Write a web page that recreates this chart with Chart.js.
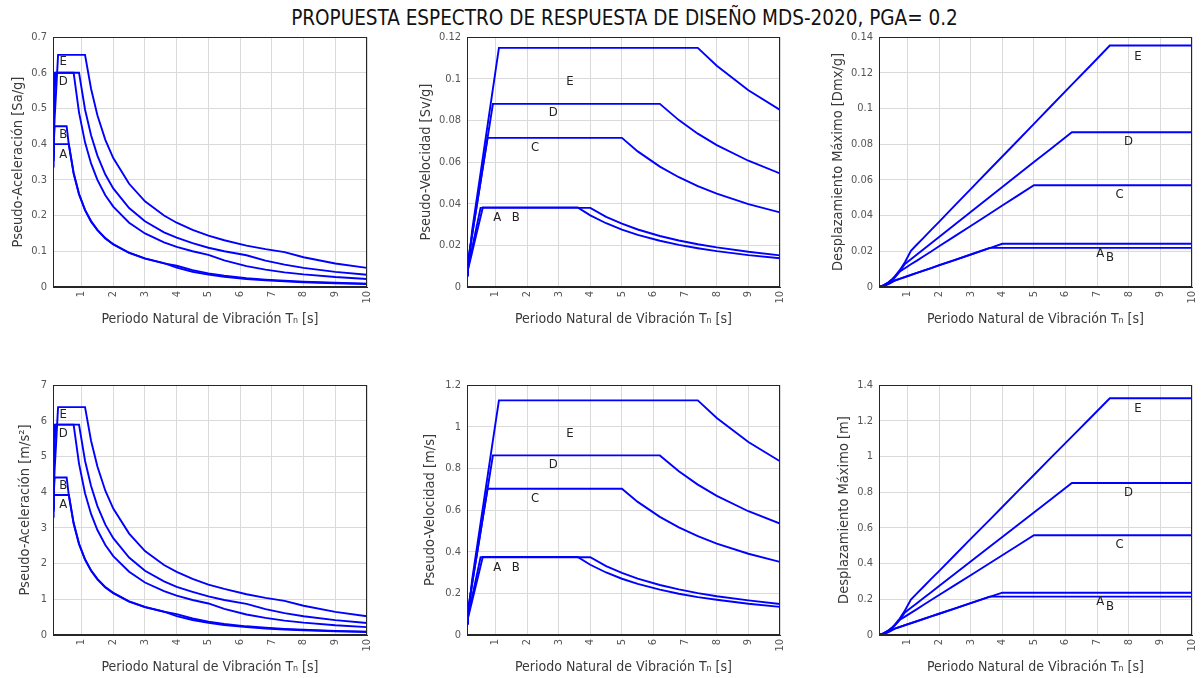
<!DOCTYPE html>
<html>
<head>
<meta charset="utf-8">
<script src="https://cdn.jsdelivr.net/npm/chart.js@4.4.0/dist/chart.umd.min.js"></script>
<style>
  body { margin: 0; background: #fff; width: 1203px; height: 678px; overflow: hidden; position: relative; }
  #title { position: absolute; left: 23px; top: 6px; width: 1203px; text-align: center;
           font-family: "Liberation Sans Narrow", "DejaVu Sans Condensed", sans-serif; font-size: 20.5px; color: #111; }
  canvas { position: absolute; }
</style>
</head>
<body>
<div id="title">PROPUESTA ESPECTRO DE RESPUESTA DE DISEÑO MDS-2020, PGA= 0.2</div>
<canvas id="c1"></canvas>
<canvas id="c2"></canvas>
<canvas id="c3"></canvas>
<canvas id="c4"></canvas>
<canvas id="c5"></canvas>
<canvas id="c6"></canvas>
<script>
// periodo T [s], comun a todas las curvas
const periods = [0.1,0.12,0.15,0.2,0.26,0.4,0.53,0.6,0.75,0.92,1.11,1.3,1.5,1.75,2,2.5,3,3.6,4,4.5,5,5.5,6.2,6.8,7.4,8,9,10];
const soilNames = ['A','B','C','D','E'];

// === Pseudo-aceleracion [Sa/g] ===
const saA = [0.337,0.40,0.40,0.40,0.40,0.40,0.40,0.40,0.32,0.261,0.216,0.185,0.16,0.137,0.12,0.096,0.08,0.0667,0.054,0.0427,0.0346,0.0286,0.0225,0.0187,0.0158,0.0135,0.0107,0.0086];
const saB = [0.355,0.393,0.45,0.45,0.45,0.45,0.45,0.3975,0.318,0.259,0.215,0.183,0.159,0.136,0.119,0.0954,0.0795,0.0663,0.0596,0.0471,0.0382,0.0315,0.0248,0.0206,0.0174,0.0149,0.0118,0.0095];
const saC = [0.37,0.46,0.60,0.60,0.60,0.60,0.60,0.60,0.60,0.489,0.405,0.346,0.30,0.257,0.225,0.18,0.15,0.125,0.1125,0.10,0.09,0.0744,0.0585,0.0487,0.0411,0.0352,0.0278,0.0225];
const saD = [0.365,0.44,0.55,0.60,0.60,0.60,0.60,0.60,0.60,0.60,0.497,0.425,0.368,0.315,0.276,0.221,0.184,0.153,0.138,0.123,0.110,0.100,0.089,0.074,0.0625,0.0535,0.0423,0.0342];
const saE = [0.36,0.40,0.47,0.55,0.65,0.65,0.65,0.65,0.65,0.65,0.65,0.555,0.481,0.412,0.361,0.289,0.24,0.20,0.18,0.16,0.144,0.131,0.116,0.106,0.0975,0.0834,0.0659,0.0534];

// === Pseudo-velocidad [Sv/g] ===
const svA = [0.00536,0.00764,0.00955,0.0127,0.0166,0.0255,0.0337,0.0382,0.0382,0.0382,0.0382,0.0382,0.0382,0.0382,0.0382,0.0382,0.0382,0.0382,0.0344,0.0306,0.0275,0.0250,0.0222,0.0202,0.0186,0.0172,0.0153,0.0138];
const svB = [0.00565,0.00751,0.0107,0.0143,0.0186,0.0287,0.0380,0.0380,0.0380,0.0380,0.0380,0.0380,0.0380,0.0380,0.0380,0.0380,0.0380,0.0380,0.0380,0.0337,0.0304,0.0276,0.0245,0.0223,0.0205,0.0190,0.0169,0.0152];
const svC = [0.00589,0.00879,0.0143,0.0191,0.0248,0.0382,0.0506,0.0573,0.0716,0.0716,0.0716,0.0716,0.0716,0.0716,0.0716,0.0716,0.0716,0.0716,0.0716,0.0716,0.0716,0.0651,0.0578,0.0527,0.0484,0.0448,0.0398,0.0358];
const svD = [0.00581,0.0084,0.0131,0.0191,0.0248,0.0382,0.0506,0.0573,0.0716,0.0879,0.0879,0.0879,0.0879,0.0879,0.0879,0.0879,0.0879,0.0879,0.0879,0.0879,0.0879,0.0879,0.0879,0.0801,0.0736,0.0681,0.0606,0.0545];
const svE = [0.00573,0.00764,0.0112,0.0175,0.0269,0.0414,0.0548,0.0621,0.0776,0.0952,0.1148,0.1148,0.1148,0.1148,0.1148,0.1148,0.1148,0.1148,0.1148,0.1148,0.1148,0.1148,0.1148,0.1148,0.1148,0.1062,0.0944,0.085];

// === Desplazamiento maximo [Dmx/g] ===
const sdA = [0.000085,0.000146,0.000228,0.000405,0.000685,0.00162,0.00285,0.00365,0.00456,0.00559,0.00675,0.0079,0.00912,0.0106,0.0122,0.0152,0.0182,0.0219,0.0219,0.0219,0.0219,0.0219,0.0219,0.0219,0.0219,0.0219,0.0219,0.0219];
const sdB = [0.00009,0.000143,0.000256,0.000456,0.00077,0.00182,0.00321,0.00363,0.00454,0.00556,0.00671,0.00786,0.00907,0.0106,0.0121,0.0151,0.0181,0.0218,0.0242,0.0242,0.0242,0.0242,0.0242,0.0242,0.0242,0.0242,0.0242,0.0242];
const sdC = [0.000094,0.000168,0.000342,0.000608,0.00103,0.00243,0.00427,0.00547,0.00855,0.0105,0.0127,0.0148,0.0171,0.0199,0.0228,0.0285,0.0342,0.041,0.0456,0.0513,0.057,0.057,0.057,0.057,0.057,0.057,0.057,0.057];
const sdD = [0.000093,0.00016,0.000313,0.000608,0.00103,0.00243,0.00427,0.00547,0.00855,0.0129,0.0155,0.0182,0.021,0.0245,0.028,0.035,0.042,0.0504,0.056,0.063,0.07,0.0769,0.0867,0.0867,0.0867,0.0867,0.0867,0.0867];
const sdE = [0.000091,0.000146,0.000268,0.000557,0.00111,0.00263,0.00463,0.00593,0.00926,0.0139,0.0203,0.0238,0.0274,0.032,0.0365,0.0457,0.0548,0.0658,0.0731,0.0822,0.0914,0.1005,0.1133,0.1242,0.1352,0.1352,0.1352,0.1352];

// === Pseudo-aceleracion [m/s2] ===
const saA_ms = [3.31,3.92,3.92,3.92,3.92,3.92,3.92,3.92,3.14,2.56,2.12,1.81,1.57,1.34,1.18,0.942,0.785,0.654,0.530,0.419,0.339,0.281,0.221,0.183,0.155,0.132,0.105,0.0844];
const saB_ms = [3.48,3.86,4.41,4.41,4.41,4.41,4.41,3.90,3.12,2.54,2.11,1.80,1.56,1.33,1.17,0.936,0.780,0.650,0.585,0.462,0.375,0.309,0.243,0.202,0.171,0.146,0.116,0.0932];
const saC_ms = [3.63,4.51,5.89,5.89,5.89,5.89,5.89,5.89,5.89,4.80,3.97,3.39,2.94,2.52,2.21,1.77,1.47,1.23,1.10,0.981,0.883,0.730,0.574,0.478,0.403,0.345,0.273,0.221];
const saD_ms = [3.58,4.32,5.40,5.89,5.89,5.89,5.89,5.89,5.89,5.89,4.88,4.17,3.61,3.09,2.71,2.17,1.80,1.50,1.35,1.21,1.08,0.981,0.873,0.726,0.613,0.525,0.415,0.336];
const saE_ms = [3.53,3.92,4.61,5.40,6.38,6.38,6.38,6.38,6.38,6.38,6.38,5.44,4.72,4.04,3.54,2.84,2.35,1.96,1.77,1.57,1.41,1.29,1.14,1.04,0.956,0.818,0.646,0.524];

// === Pseudo-velocidad [m/s] ===
const svA_ms = [0.0526,0.0749,0.0937,0.125,0.162,0.250,0.331,0.375,0.375,0.375,0.375,0.375,0.375,0.375,0.375,0.375,0.375,0.375,0.337,0.300,0.270,0.245,0.218,0.198,0.182,0.169,0.150,0.135];
const svB_ms = [0.0554,0.0737,0.105,0.140,0.183,0.281,0.373,0.373,0.373,0.373,0.373,0.373,0.373,0.373,0.373,0.373,0.373,0.373,0.373,0.331,0.298,0.271,0.240,0.219,0.201,0.186,0.166,0.149];
const svC_ms = [0.0578,0.0862,0.140,0.187,0.244,0.375,0.496,0.562,0.702,0.702,0.702,0.702,0.702,0.702,0.702,0.702,0.702,0.702,0.702,0.702,0.702,0.639,0.567,0.517,0.475,0.439,0.390,0.351];
const svD_ms = [0.0570,0.0824,0.129,0.187,0.244,0.375,0.496,0.562,0.702,0.862,0.862,0.862,0.862,0.862,0.862,0.862,0.862,0.862,0.862,0.862,0.862,0.862,0.862,0.786,0.722,0.668,0.594,0.535];
const svE_ms = [0.0562,0.0749,0.110,0.172,0.264,0.406,0.538,0.609,0.761,0.934,1.126,1.126,1.126,1.126,1.126,1.126,1.126,1.126,1.126,1.126,1.126,1.126,1.126,1.126,1.126,1.042,0.926,0.834];

// === Desplazamiento maximo [m] ===
const sdA_m = [0.00084,0.00143,0.00224,0.00397,0.00672,0.0159,0.028,0.0358,0.0447,0.0548,0.0662,0.0775,0.0895,0.104,0.119,0.149,0.179,0.215,0.215,0.215,0.215,0.215,0.215,0.215,0.215,0.215,0.215,0.215];
const sdB_m = [0.00088,0.0014,0.00251,0.00447,0.00755,0.0179,0.0315,0.0356,0.0445,0.0545,0.0658,0.0771,0.089,0.104,0.119,0.148,0.178,0.214,0.237,0.237,0.237,0.237,0.237,0.237,0.237,0.237,0.237,0.237];
const sdC_m = [0.00092,0.00165,0.00336,0.00596,0.0101,0.0238,0.0419,0.0537,0.0839,0.103,0.124,0.145,0.168,0.196,0.224,0.279,0.335,0.402,0.447,0.503,0.559,0.559,0.559,0.559,0.559,0.559,0.559,0.559];
const sdD_m = [0.00091,0.00157,0.00307,0.00596,0.0101,0.0238,0.0419,0.0537,0.0839,0.126,0.152,0.178,0.206,0.240,0.274,0.343,0.412,0.494,0.549,0.618,0.686,0.755,0.851,0.851,0.851,0.851,0.851,0.851];
const sdE_m = [0.0009,0.00143,0.00263,0.00546,0.0109,0.0258,0.0454,0.0581,0.0909,0.137,0.199,0.233,0.269,0.314,0.358,0.448,0.538,0.645,0.717,0.807,0.896,0.986,1.111,1.218,1.326,1.326,1.326,1.326];

// x ticks (1..10) and letter positions [letter, T, value]
const xTickValues = [1,2,3,4,5,6,7,8,9,10];
const saTags   = [['E',0.42,0.631],['D',0.42,0.574],['B',0.42,0.426],['A',0.42,0.372]];
const svTags   = [['E',3.36,0.0986],['D',2.83,0.0838],['C',2.25,0.0667],['A',1.06,0.0331],['B',1.64,0.0331]];
const sdTags   = [['E',8.29,0.129],['D',7.99,0.0814],['C',7.71,0.0515],['A',7.1,0.0187],['B',7.41,0.0165]];
const saTagsMs = [['E',0.42,6.16],['D',0.42,5.65],['B',0.42,4.18],['A',0.42,3.64]];
const svTagsMs = [['E',3.36,0.968],['D',2.83,0.82],['C',2.25,0.656],['A',1.06,0.325],['B',1.64,0.325]];
const sdTagsM  = [['E',8.29,1.27],['D',7.99,0.795],['C',7.71,0.506],['A',7.1,0.186],['B',7.41,0.158]];

const FONT = '"Liberation Sans Narrow", "DejaVu Sans Condensed", sans-serif';
const xTitle = 'Periodo Natural de Vibración Tₙ [s]';

// plot areas: left/top of chart area, width, y title offset
const panels = [
  {id:'c1', left:53,  top:37,  w:314, yTitle:'Pseudo-Aceleración [Sa/g]', yMax:0.7,  step:0.1,  series:[saA,saB,saC,saD,saE], tags:saTags, tOff:34},
  {id:'c2', left:467, top:37,  w:313, yTitle:'Pseudo-Velocidad [Sv/g]',   yMax:0.12, step:0.02, series:[svA,svB,svC,svD,svE], tags:svTags, tOff:40},
  {id:'c3', left:879, top:37,  w:313, yTitle:'Desplazamiento Máximo [Dmx/g]', yMax:0.14, step:0.02, series:[sdA,sdB,sdC,sdD,sdE], tags:sdTags, tOff:40},
  {id:'c4', left:53,  top:385, w:314, yTitle:'Pseudo-Aceleración [m/s²]', yMax:7,    step:1,    series:[saA_ms,saB_ms,saC_ms,saD_ms,saE_ms], tags:saTagsMs, tOff:27},
  {id:'c5', left:467, top:385, w:313, yTitle:'Pseudo-Velocidad [m/s]',    yMax:1.2,  step:0.2,  series:[svA_ms,svB_ms,svC_ms,svD_ms,svE_ms], tags:svTagsMs, tOff:36},
  {id:'c6', left:879, top:385, w:313, yTitle:'Desplazamiento Máximo [m]', yMax:1.4,  step:0.2,  series:[sdA_m,sdB_m,sdC_m,sdD_m,sdE_m], tags:sdTagsM, tOff:34},
];

const PLOT_H = 250, Y_W = 53, X_H = 46, PAD_T = 12, PAD_R = 10;

// frame around the plot area + letters A..E
const framePlugin = {
  id: 'frame',
  afterDatasetsDraw(chart, args, opts) {
    const {ctx, chartArea: a, scales} = chart;
    ctx.save();
    ctx.strokeStyle = '#262626';
    ctx.lineWidth = 1;
    ctx.strokeRect(Math.round(a.left) + 0.5, Math.round(a.top) + 0.5, Math.round(a.width) - 1, Math.round(a.height) - 1);
    ctx.fillStyle = '#222';
    ctx.font = '13px ' + FONT;
    ctx.textAlign = 'center';
    ctx.textBaseline = 'middle';
    for (const [txt, tx, ty] of opts.tags) {
      ctx.fillText(txt, scales.x.getPixelForValue(tx), scales.y.getPixelForValue(ty));
    }
    ctx.restore();
  }
};

function makePanel(p) {
  const cv = document.getElementById(p.id);
  cv.width = Y_W + p.w + PAD_R;
  cv.height = PAD_T + PLOT_H + X_H;
  cv.style.left = (p.left - Y_W) + 'px';
  cv.style.top = (p.top - PAD_T) + 'px';

  const datasets = p.series.map((vals, i) => ({
    label: soilNames[i],
    data: periods.map((t, j) => ({x: t, y: vals[j]})),
    borderColor: '#0000ff',
    borderWidth: 1.9,
    pointRadius: 0,
    tension: 0,
    fill: false,
  }));

  new Chart(cv.getContext('2d'), {
    type: 'line',
    data: {datasets},
    options: {
      responsive: false,
      animation: false,
      layout: {padding: {top: PAD_T, right: PAD_R, left: 0, bottom: 0}},
      plugins: {legend: {display: false}, tooltip: {enabled: false}, frame: {tags: p.tags}},
      scales: {
        x: {
          type: 'linear', min: 0.1, max: 10,
          afterBuildTicks: s => { s.ticks = xTickValues.map(v => ({value: v})); },
          afterFit: s => { s.height = X_H; s.paddingLeft = 0; s.paddingRight = 0; },
          grid: {color: '#dadada', drawTicks: false},
          border: {color: '#262626'},
          ticks: {minRotation: 90, maxRotation: 90, padding: 4, color: '#555',
                  font: {family: FONT, size: 11}, callback: v => String(v)},
          title: {display: true, text: xTitle, color: '#3a3a3a', padding: {top: 0, bottom: 5},
                  font: {family: FONT, size: 14}}
        },
        y: {
          min: 0, max: p.yMax,
          afterFit: s => { s.width = Y_W; s.paddingTop = 0; s.paddingBottom = 0; },
          grid: {color: '#dadada', drawTicks: false},
          border: {color: '#262626'},
          ticks: {stepSize: p.step, padding: 6, color: '#555', font: {family: FONT, size: 11},
                  callback: v => String(+v.toFixed(4))},
          title: {display: true, text: p.yTitle, color: '#3a3a3a',
                  padding: {top: Y_W - p.tOff - 9, bottom: 0}, font: {family: FONT, size: 14.5}}
        }
      }
    },
    plugins: [framePlugin]
  });
}

panels.forEach(makePanel);
</script>
</body>
</html>
